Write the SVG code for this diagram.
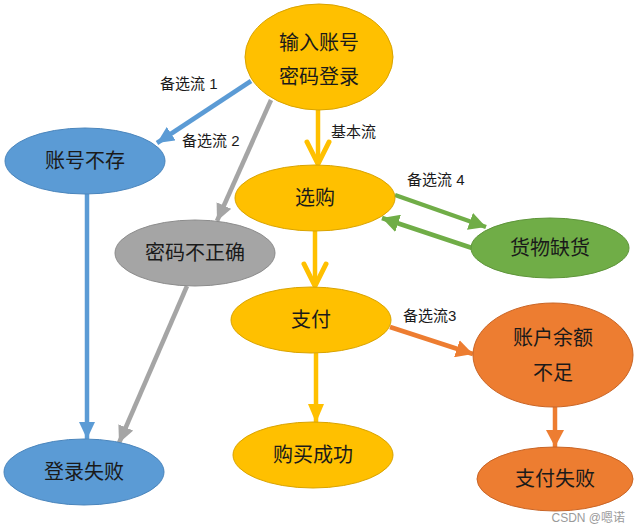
<svg xmlns="http://www.w3.org/2000/svg" width="641" height="532" viewBox="0 0 641 532">
<defs>
<style>
.t{font-family:"Liberation Sans","Noto Sans CJK SC",sans-serif;font-size:20px;fill:#1a1a1a;text-anchor:middle;dominant-baseline:central}
.l{font-family:"Liberation Sans","Noto Sans CJK SC",sans-serif;font-size:15px;fill:#1a1a1a;dominant-baseline:central}
.y{fill:#FFC000;stroke:#D9A300;stroke-width:1}
.b{fill:#5B9BD5;stroke:#4A85BC;stroke-width:1}
.g{fill:#A5A5A5;stroke:#8C8C8C;stroke-width:1}
.gr{fill:#70AD47;stroke:#5E953A;stroke-width:1}
.o{fill:#ED7D31;stroke:#C96526;stroke-width:1}
.c{fill:none;stroke-width:4.5}
</style>
<marker id="ab" markerUnits="userSpaceOnUse" markerWidth="18" markerHeight="16" refX="17" refY="8" orient="auto"><path d="M0,0 L17,8 L0,16 z" fill="#5B9BD5"/></marker>
<marker id="ag" markerUnits="userSpaceOnUse" markerWidth="18" markerHeight="16" refX="17" refY="8" orient="auto"><path d="M0,0 L17,8 L0,16 z" fill="#A5A5A5"/></marker>
<marker id="agr" markerUnits="userSpaceOnUse" markerWidth="18" markerHeight="18" refX="17" refY="9" orient="auto"><path d="M0,0 L17,9 L0,18 z" fill="#70AD47"/></marker>
<marker id="ao" markerUnits="userSpaceOnUse" markerWidth="18" markerHeight="18" refX="17" refY="9" orient="auto"><path d="M0,0 L17,9 L0,18 z" fill="#ED7D31"/></marker>
<marker id="ay" markerUnits="userSpaceOnUse" markerWidth="20" markerHeight="16" refX="19" refY="8" orient="auto"><path d="M0,0 L19,8 L0,16 z" fill="#FFC000"/></marker>
<marker id="av" markerUnits="userSpaceOnUse" markerWidth="30" markerHeight="30" refX="25" refY="14" orient="auto"><path d="M3,3 L25,14 L3,25" fill="none" stroke="#FFC000" stroke-width="5" stroke-linecap="round" stroke-linejoin="round"/></marker>
</defs>
<g id="connectors">
<line class="c" x1="251" y1="81" x2="157" y2="143" stroke="#5B9BD5" marker-end="url(#ab)"/>
<line class="c" x1="271" y1="100" x2="217" y2="221" stroke="#A5A5A5" marker-end="url(#ag)"/>
<line class="c" x1="318" y1="110" x2="318" y2="164" stroke="#FFC000" marker-end="url(#av)"/>
<line class="c" x1="87" y1="194" x2="87" y2="439" stroke="#5B9BD5" marker-end="url(#ab)"/>
<line class="c" x1="187" y1="286" x2="119" y2="443" stroke="#A5A5A5" marker-end="url(#ag)"/>
<line class="c" x1="395" y1="195" x2="486" y2="227" stroke="#70AD47" stroke-width="5" marker-end="url(#agr)"/>
<line class="c" x1="472" y1="248" x2="382" y2="218" stroke="#70AD47" stroke-width="5" marker-end="url(#agr)"/>
<line class="c" x1="315" y1="231" x2="315" y2="286" stroke="#FFC000" marker-end="url(#av)"/>
<line class="c" x1="390" y1="327" x2="473" y2="354" stroke="#ED7D31" stroke-width="5" marker-end="url(#ao)"/>
<line class="c" x1="316" y1="353" x2="316" y2="423" stroke="#FFC000" marker-end="url(#ay)"/>
<line class="c" x1="555" y1="407" x2="555" y2="447" stroke="#ED7D31" stroke-width="5" marker-end="url(#ao)"/>
<text class="l" x="160" y="83">备选流 1</text>
<text class="l" x="182" y="140">备选流 2</text>
<text class="l" x="331" y="131">基本流</text>
<text class="l" x="407" y="179">备选流 4</text>
<text class="l" x="403" y="315">备选流3</text>
</g>
<g id="n-login"><ellipse class="y" cx="319" cy="57" rx="74" ry="53"/><text class="t" x="319" y="43">输入账号</text><text class="t" x="319" y="77">密码登录</text></g>
<g id="n-noacct"><ellipse class="b" cx="85" cy="161" rx="80" ry="33"/><text class="t" x="85" y="161">账号不存</text></g>
<g id="n-badpwd"><ellipse class="g" cx="195" cy="253" rx="80" ry="33"/><text class="t" x="195" y="253">密码不正确</text></g>
<g id="n-shop"><ellipse class="y" cx="315" cy="198" rx="80" ry="33"/><text class="t" x="315" y="198">选购</text></g>
<g id="n-outstock"><ellipse class="gr" cx="550" cy="248" rx="79" ry="30"/><text class="t" x="550" y="248">货物缺货</text></g>
<g id="n-pay"><ellipse class="y" cx="311" cy="320" rx="80" ry="33"/><text class="t" x="311" y="320">支付</text></g>
<g id="n-nofunds"><ellipse class="o" cx="553" cy="355" rx="80" ry="52"/><text class="t" x="553" y="338">账户余额</text><text class="t" x="553" y="373">不足</text></g>
<g id="n-success"><ellipse class="y" cx="313" cy="455" rx="80" ry="33"/><text class="t" x="313" y="455">购买成功</text></g>
<g id="n-payfail"><ellipse class="o" cx="555" cy="479" rx="78" ry="32"/><text class="t" x="555" y="479">支付失败</text></g>
<g id="n-loginfail"><ellipse class="b" cx="84" cy="472" rx="80" ry="33"/><text class="t" x="84" y="472">登录失败</text></g>
<text x="625" y="518" font-family="Liberation Sans,Noto Sans CJK SC,sans-serif" font-size="12" fill="#9a9a9a" text-anchor="end" dominant-baseline="central">CSDN @嗯诺</text>
</svg>
